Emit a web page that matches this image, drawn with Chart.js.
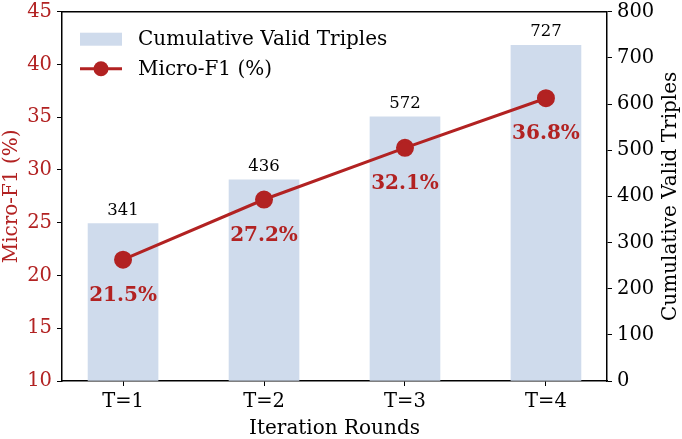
<!DOCTYPE html>
<html>
<head>
<meta charset="utf-8">
<script src="https://cdn.jsdelivr.net/npm/chart.js@4.4.1/dist/chart.umd.min.js"></script>
<style>
  html, body { margin: 0; padding: 0; background: #fff; overflow: hidden; }
  /* canvas a little taller than the window, shifted up so the plot top sits near the edge */
  #wrap { width: 682px; height: 444px; margin-top: -5px; }
</style>
</head>
<body>
<div id="wrap"><canvas id="chart"></canvas></div>
<script>
// data
const rounds = ['T=1', 'T=2', 'T=3', 'T=4'];
const validTriples = [341, 436, 572, 727];
const microF1 = [21.5, 27.2, 32.1, 36.8];
const leftTicks = [10, 15, 20, 25, 30, 35, 40, 45];
const rightTicks = [0, 100, 200, 300, 400, 500, 600, 700, 800];

const RED = '#b22222';
const BAR = '#cfdbec';
const FONT = 'DejaVu Serif';

// labels on bars and points, legend, top spine, right title
const extras = {
    id: 'extras',
    afterDatasetsDraw(chart) {
        const ctx = chart.ctx;
        const area = chart.chartArea;
        ctx.save();

        // bar value labels
        const barMeta = chart.getDatasetMeta(0);
        ctx.font = '16.5px "' + FONT + '"';
        ctx.fillStyle = '#000';
        ctx.textAlign = 'center';
        ctx.textBaseline = 'bottom';
        barMeta.data.forEach((el, i) => {
            ctx.fillText(String(validTriples[i]), el.x, el.y - 5);
        });

        // F1 labels under points
        const lineMeta = chart.getDatasetMeta(1);
        ctx.font = 'bold 20px "' + FONT + '"';
        ctx.fillStyle = RED;
        ctx.textBaseline = 'middle';
        lineMeta.data.forEach((el, i) => {
            ctx.fillText(microF1[i].toFixed(1) + '%', el.x, el.y + 36);
        });

        // top spine
        ctx.strokeStyle = '#000';
        ctx.lineWidth = 1.5;
        ctx.beginPath();
        ctx.moveTo(area.left, area.top);
        ctx.lineTo(area.right, area.top);
        ctx.stroke();

        // right axis title, reading bottom to top
        ctx.save();
        ctx.translate(671, (area.top + area.bottom) / 2);
        ctx.rotate(-Math.PI / 2);
        ctx.font = '20px "' + FONT + '"';
        ctx.fillStyle = '#000';
        ctx.textAlign = 'center';
        ctx.textBaseline = 'middle';
        ctx.fillText('Cumulative Valid Triples', 0, 0);
        ctx.restore();

        // legend
        const ds = chart.data.datasets;
        const lx = area.left + 18;
        const ly = area.top;
        ctx.font = '20px "' + FONT + '"';
        ctx.textAlign = 'left';
        ctx.textBaseline = 'middle';
        ctx.fillStyle = BAR;
        ctx.fillRect(lx, ly + 21, 42, 13);
        ctx.fillStyle = '#000';
        ctx.fillText(ds[0].label, lx + 58, ly + 28);

        ctx.strokeStyle = RED;
        ctx.lineWidth = 3;
        ctx.beginPath();
        ctx.moveTo(lx, ly + 57);
        ctx.lineTo(lx + 42, ly + 57);
        ctx.stroke();
        ctx.fillStyle = RED;
        ctx.beginPath();
        ctx.arc(lx + 21, ly + 57, 7.5, 0, Math.PI * 2);
        ctx.fill();
        ctx.fillStyle = '#000';
        ctx.fillText(ds[1].label, lx + 58, ly + 58);

        ctx.restore();
    }
};

new Chart(document.getElementById('chart'), {
    data: {
        datasets: [{
            type: 'bar',
            label: 'Cumulative Valid Triples',
            data: validTriples.map((v, i) => ({ x: i + 1, y: v })),
            backgroundColor: BAR,
            barThickness: 70,
            yAxisID: 'y2',
            order: 2
        }, {
            type: 'line',
            label: 'Micro-F1 (%)',
            data: microF1.map((v, i) => ({ x: i + 1, y: v })),
            borderColor: RED,
            backgroundColor: RED,
            borderWidth: 3,
            pointRadius: 7.5,
            pointHoverRadius: 7.5,
            fill: false,
            tension: 0,
            yAxisID: 'y',
            order: 1
        }]
    },
    options: {
        responsive: true,
        maintainAspectRatio: false,
        animation: false,
        layout: { padding: { top: 5.5, left: 0, right: 0, bottom: 0 } },
        plugins: {
            legend: { display: false },
            tooltip: { enabled: false }
        },
        scales: {
            x: {
                type: 'linear',
                offset: false,
                min: 0.567,
                max: 4.433,
                afterBuildTicks: (s) => { s.ticks = rounds.map((r, i) => ({ value: i + 1 })); },
                afterFit: (s) => { s.height = 58; },
                ticks: {
                    callback: (v) => rounds[v - 1],
                    color: '#000',
                    padding: 4,
                    font: { family: FONT, size: 19.5 }
                },
                grid: { drawOnChartArea: false, offset: false, color: '#000', tickLength: 5 },
                border: { display: true, color: '#000', width: 1.5 },
                title: {
                    display: true,
                    text: 'Iteration Rounds',
                    color: '#000',
                    padding: { top: 0, bottom: -2 },
                    font: { family: FONT, size: 20 }
                }
            },
            y: {
                position: 'left',
                min: 10,
                max: 45,
                afterBuildTicks: (s) => { s.ticks = leftTicks.map(v => ({ value: v })); },
                afterFit: (s) => { s.width = 62; },
                ticks: {
                    color: RED,
                    padding: 5,
                    font: { family: FONT, size: 19.5 }
                },
                grid: { drawOnChartArea: false, color: '#000', tickLength: 5 },
                border: { display: true, color: '#000', width: 1.5 },
                title: {
                    display: true,
                    text: 'Micro-F1 (%)',
                    color: RED,
                    padding: { top: 0, bottom: 0 },
                    font: { family: FONT, size: 20 }
                }
            },
            y2: {
                position: 'right',
                min: 0,
                max: 800,
                afterBuildTicks: (s) => { s.ticks = rightTicks.map(v => ({ value: v })); },
                afterFit: (s) => { s.width = 75; },
                ticks: {
                    color: '#000',
                    padding: 5,
                    font: { family: FONT, size: 19.5 }
                },
                grid: { drawOnChartArea: false, color: '#000', tickLength: 5 },
                border: { display: true, color: '#000', width: 1.5 }
            }
        }
    },
    plugins: [extras]
});
</script>
</body>
</html>
